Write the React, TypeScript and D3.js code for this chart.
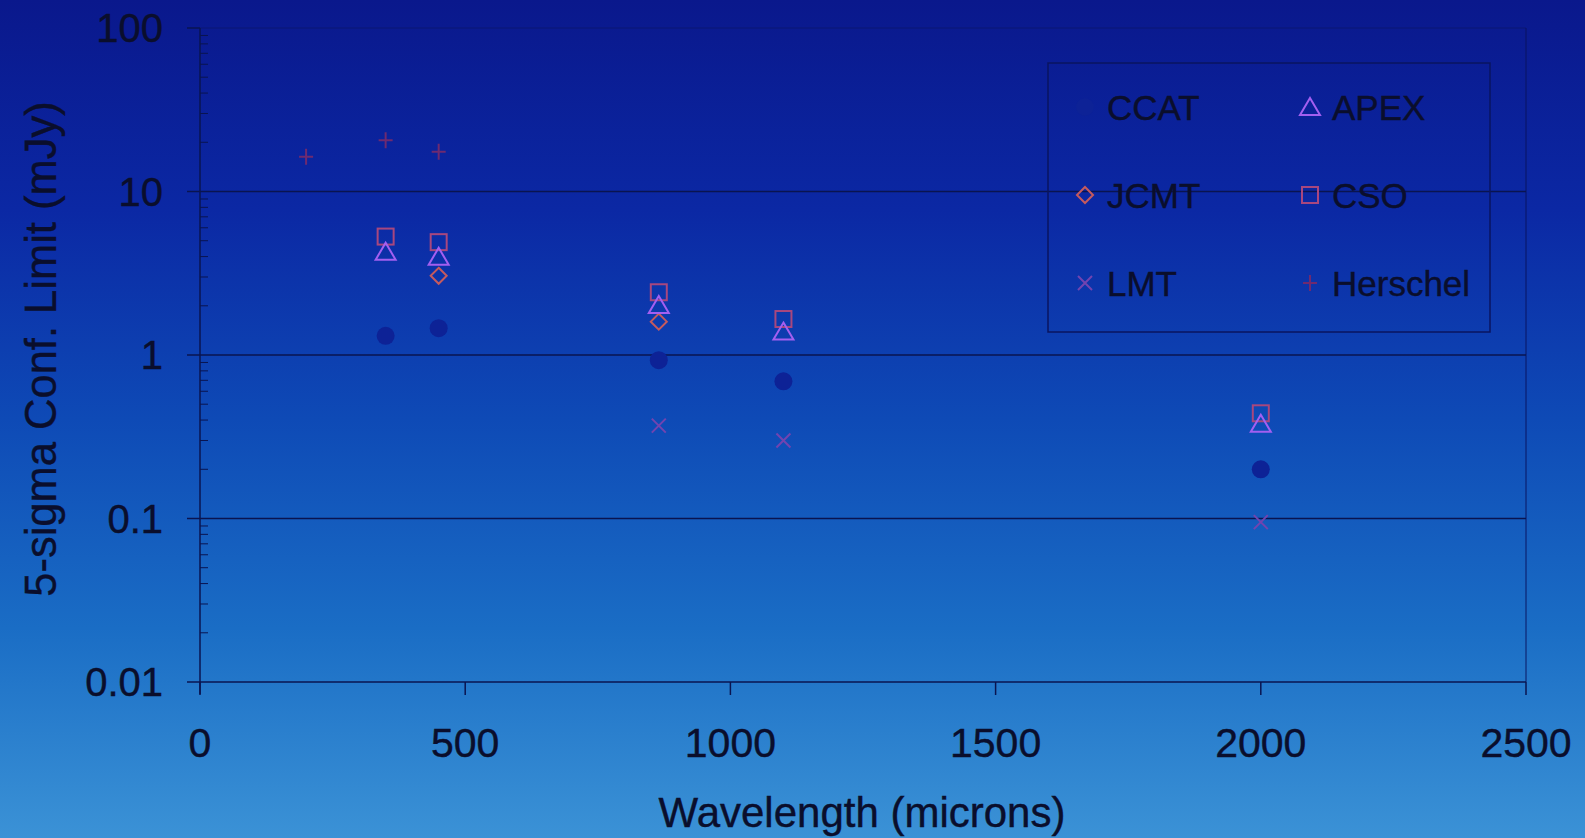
import React from "react";
import * as d3 from "d3";

const W = 1585;
const H = 838;

const ccatX = [350, 450, 865, 1100, 2000];
const ccatY = [1.31, 1.46, 0.93, 0.69, 0.2];
const apexX = [350, 450, 865, 1100, 2000];
const apexY = [4.28, 3.99, 2.02, 1.39, 0.38];
const jcmtX = [450, 865];
const jcmtY = [3.05, 1.6];
const csoX = [350, 450, 865, 1100, 2000];
const csoY = [5.3, 4.9, 2.42, 1.66, 0.44];
const lmtX = [865, 1100, 2000];
const lmtY = [0.37, 0.3, 0.095];
const herschelX = [200, 350, 450];
const herschelY = [16.3, 20.6, 17.5];

const xTicks = [0, 500, 1000, 1500, 2000, 2500];
const yTicks = [0.01, 0.1, 1, 10, 100];
const yTickLabels = ["0.01", "0.1", "1", "10", "100"];

const left = 200, right = 1526, top = 28, bottom = 682;
const x = d3.scaleLinear().domain([0, 2500]).range([left, right]);
const y = d3.scaleLog().domain([0.01, 100]).range([bottom, top]);

const textColor = "#0a0e2c";
const font = "'Liberation Sans', Arial, sans-serif";

type Kind = "circle" | "triangle" | "diamond" | "square" | "x" | "plus";

function Marker({ kind, cx, cy }: { kind: Kind; cx: number; cy: number }) {
  switch (kind) {
    case "circle":
      return <circle cx={cx} cy={cy} r={9} fill="#0d2296" />;
    case "triangle":
      return (
        <path
          d={`M${cx},${cy - 9} L${cx + 10},${cy + 8} L${cx - 10},${cy + 8} Z`}
          fill="none"
          stroke="#a35ff0"
          strokeWidth={2}
        />
      );
    case "diamond":
      return (
        <path
          d={`M${cx},${cy - 8} L${cx + 8},${cy} L${cx},${cy + 8} L${cx - 8},${cy} Z`}
          fill="none"
          stroke="#c55a5e"
          strokeWidth={2}
        />
      );
    case "square":
      return (
        <rect x={cx - 8} y={cy - 8} width={16} height={16} fill="none" stroke="#a8477e" strokeWidth={2} />
      );
    case "x":
      return (
        <path
          d={`M${cx - 7},${cy - 7} L${cx + 7},${cy + 7} M${cx - 7},${cy + 7} L${cx + 7},${cy - 7}`}
          stroke="#7244b0"
          strokeWidth={2}
        />
      );
    case "plus":
      return (
        <path
          d={`M${cx - 7},${cy} L${cx + 7},${cy} M${cx},${cy - 8} L${cx},${cy + 8}`}
          stroke="#6e2a70"
          strokeWidth={2}
        />
      );
  }
}

const series: { name: string; kind: Kind; xs: number[]; ys: number[] }[] = [
  { name: "Herschel", kind: "plus", xs: herschelX, ys: herschelY },
  { name: "LMT", kind: "x", xs: lmtX, ys: lmtY },
  { name: "CCAT", kind: "circle", xs: ccatX, ys: ccatY },
  { name: "CSO", kind: "square", xs: csoX, ys: csoY },
  { name: "JCMT", kind: "diamond", xs: jcmtX, ys: jcmtY },
  { name: "APEX", kind: "triangle", xs: apexX, ys: apexY },
];

const legendItems: { name: string; kind: Kind; col: number; row: number }[] = [
  { name: "CCAT", kind: "circle", col: 0, row: 0 },
  { name: "APEX", kind: "triangle", col: 1, row: 0 },
  { name: "JCMT", kind: "diamond", col: 0, row: 1 },
  { name: "CSO", kind: "square", col: 1, row: 1 },
  { name: "LMT", kind: "x", col: 0, row: 2 },
  { name: "Herschel", kind: "plus", col: 1, row: 2 },
];

const textStroke = { stroke: textColor, strokeWidth: 0.4 };

export default function App() {
  const minor: number[] = [];
  for (let d = -2; d < 2; d++) {
    for (let k = 2; k <= 9; k++) minor.push(k * Math.pow(10, d));
  }
  return (
    <div style={{ position: "fixed", left: 0, top: 0, width: W, height: H }}>
      <svg width={W} height={H} style={{ display: "block" }}>
        <defs>
          <linearGradient id="bg" x1="0" y1="0" x2="0" y2="1">
            <stop offset="0" stopColor="#0a188c" />
            <stop offset="0.25" stopColor="#0b28a4" />
            <stop offset="0.5" stopColor="#0e4ab6" />
            <stop offset="0.75" stopColor="#1a6dc5" />
            <stop offset="1" stopColor="#3b92d6" />
          </linearGradient>
        </defs>
        <rect x={0} y={0} width={W} height={H} fill="url(#bg)" />

        {/* plot frame top/right */}
        <line x1={left} x2={right} y1={top} y2={top} stroke="#0a1460" strokeWidth={1} opacity={0.6} />
        <line x1={right} x2={right} y1={top} y2={bottom} stroke="#0a1460" strokeWidth={1.2} opacity={0.8} />

        {/* gridlines */}
        {yTicks.slice(1, -1).map((t) => (
          <line key={t} x1={left} x2={right} y1={y(t)} y2={y(t)} stroke="#0a1450" strokeWidth={1.5} />
        ))}

        {/* y axis */}
        <line x1={left} x2={left} y1={top} y2={bottom + 12} stroke="#0a1450" strokeWidth={1.5} />
        {yTicks.map((t) => (
          <line key={t} x1={left - 13} x2={left} y1={y(t)} y2={y(t)} stroke="#0a1450" strokeWidth={1.5} />
        ))}
        {minor.map((t) => (
          <line key={t} x1={left} x2={left + 8} y1={y(t)} y2={y(t)} stroke="#0a1450" strokeWidth={1} />
        ))}
        {yTicks.map((t, i) => (
          <text
            key={t}
            x={163}
            y={y(t)}
            dy="0.36em"
            textAnchor="end"
            fontFamily={font}
            fontSize={40}
            fill={textColor}
            {...textStroke}
          >
            {yTickLabels[i]}
          </text>
        ))}

        {/* x axis */}
        <line x1={left} x2={right} y1={bottom} y2={bottom} stroke="#0a1450" strokeWidth={1.5} />
        {xTicks.map((t) => (
          <line key={t} x1={x(t)} x2={x(t)} y1={bottom} y2={bottom + 13} stroke="#0a1450" strokeWidth={1.5} />
        ))}
        {xTicks.map((t) => (
          <text
            key={t}
            x={x(t)}
            y={757}
            textAnchor="middle"
            fontFamily={font}
            fontSize={41}
            fill={textColor}
            {...textStroke}
          >
            {t}
          </text>
        ))}

        {/* axis titles */}
        <text x={862} y={827} textAnchor="middle" fontFamily={font} fontSize={42} fill={textColor} {...textStroke}>
          Wavelength (microns)
        </text>
        <text
          transform={`translate(40, 349) rotate(-90)`}
          textAnchor="middle"
          dy="0.36em"
          fontFamily={font}
          fontSize={43.5}
          fill={textColor}
          {...textStroke}
        >
          5-sigma Conf. Limit (mJy)
        </text>

        {/* data */}
        {series.map((s) =>
          s.xs.map((xv, i) => <Marker key={s.name + i} kind={s.kind} cx={x(xv)} cy={y(s.ys[i])} />)
        )}

        {/* legend */}
        <rect x={1048} y={63} width={442} height={269} fill="none" stroke="#0a1460" strokeWidth={1.5} />
        {legendItems.map((it) => {
          const mx = it.col === 0 ? 1085 : 1310;
          const my = 107 + it.row * 88;
          return (
            <g key={it.name}>
              <Marker kind={it.kind} cx={mx} cy={my} />
              <text
                x={mx + 22}
                y={my}
                dy="0.36em"
                fontFamily={font}
                fontSize={35}
                fill={textColor}
                {...textStroke}
              >
                {it.name}
              </text>
            </g>
          );
        })}
      </svg>
    </div>
  );
}
